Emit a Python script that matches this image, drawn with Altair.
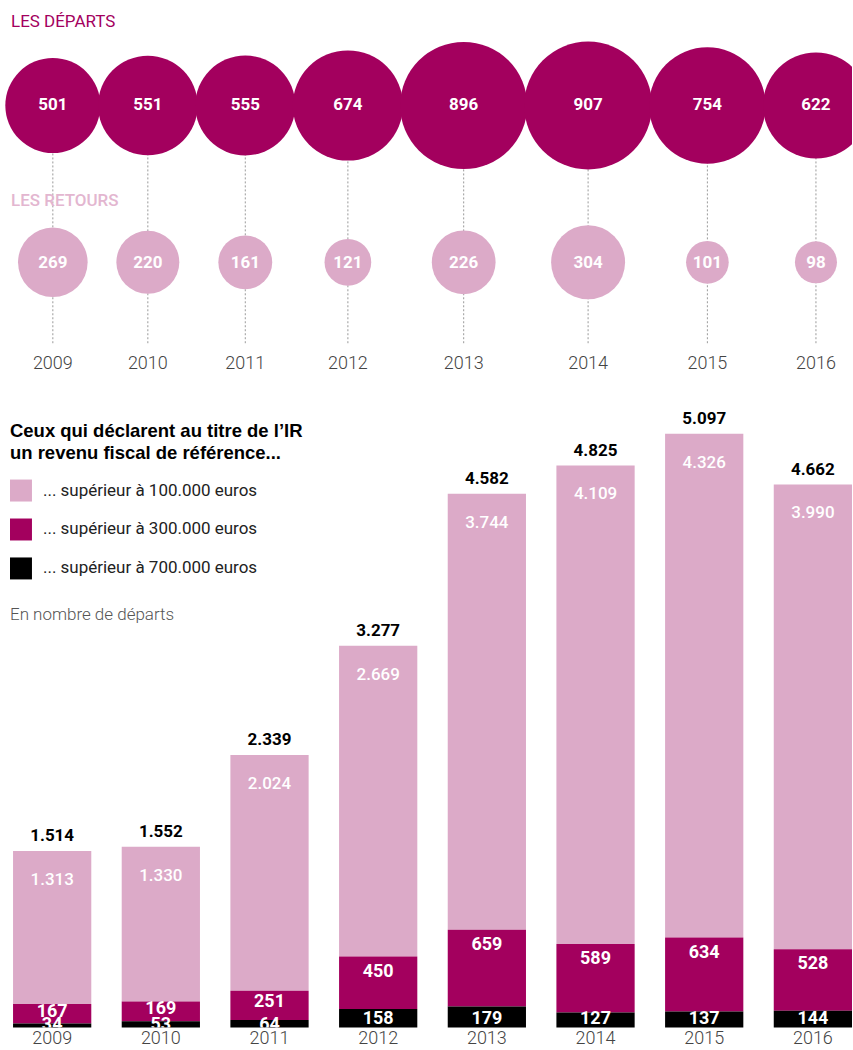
import altair as alt
import pandas as pd
import numpy as np

# ---------------- data ----------------
years = ["2009", "2010", "2011", "2012", "2013", "2014", "2015", "2016"]
departs = [501, 551, 555, 674, 896, 907, 754, 622]
retours = [269, 220, 161, 121, 226, 304, 101, 98]
seg_100 = [1313, 1330, 2024, 2669, 3744, 4109, 4326, 3990]
seg_300 = [167, 169, 251, 450, 659, 589, 634, 528]
seg_700 = [34, 53, 64, 158, 179, 127, 137, 144]
totals = [1514, 1552, 2339, 3277, 4582, 4825, 5097, 4662]
categories = [
    "... supérieur à 100.000 euros",
    "... supérieur à 300.000 euros",
    "... supérieur à 700.000 euros",
]

MAGENTA = "#a3005e"
PINK = "#dcaac8"
PINK_TXT = "#e3b6d0"
FONT = "Roboto"
TITLE_FONT = "Liberation Sans"


def fr(n):
    return f"{n:,}".replace(",", ".")


# ---------------- top: packed bubbles ----------------
root = np.sqrt(np.array(departs, dtype=float))
u = np.concatenate([[0.0], np.cumsum(root[:-1] + root[1:])])
top_df = pd.DataFrame({"year": years, "u": u, "dep": departs, "ret": retours})

size_scale = alt.Scale(type="linear", domain=[0, 1000], range=[0, 18060])
xs = alt.Scale(domain=[float(u[0] - 25.5), float(u[-1] + 17.4)], nice=False, zero=False)
X = alt.X("u:Q", scale=xs, axis=None)

base = alt.Chart(top_df)
rules = base.mark_rule(color="#9a9a9a", strokeDash=[2, 2], strokeWidth=1).encode(
    x=X, y=alt.value(105), y2=alt.value(343)
)
dep_c = base.mark_circle(color=MAGENTA, opacity=1, clip=True).encode(
    x=X, y=alt.value(105), size=alt.Size("dep:Q", scale=size_scale, legend=None)
)
dep_t = base.mark_text(color="white", fontSize=17, fontWeight="bold", font=FONT).encode(
    x=X, y=alt.value(105), text="dep:Q"
)
ret_c = base.mark_circle(color=PINK, opacity=1).encode(
    x=X, y=alt.value(262), size=alt.Size("ret:Q", scale=size_scale, legend=None)
)
ret_t = base.mark_text(color="white", fontSize=17, fontWeight="bold", font=FONT).encode(
    x=X, y=alt.value(263), text="ret:Q"
)
yr_t = base.mark_text(color="#444444", fontSize=18, fontWeight=300, font=FONT).encode(
    x=X, y=alt.value(364), text="year:N"
)
t_dep = alt.Chart(pd.DataFrame({"t": ["LES DÉPARTS"]})).mark_text(
    align="left", color=MAGENTA, fontSize=17, font=FONT
).encode(x=alt.value(11), y=alt.value(21), text="t:N")
t_ret = alt.Chart(pd.DataFrame({"t": ["LES RETOURS"]})).mark_text(
    align="left", color=PINK_TXT, fontSize=17, font=FONT, fontWeight=500
).encode(x=alt.value(11), y=alt.value(201), text="t:N")

top = alt.layer(rules, dep_c, ret_c, dep_t, ret_t, yr_t, t_dep, t_ret).properties(
    width=853, height=385
)

# ---------------- bottom: stacked bars ----------------
rows = []
for i, y in enumerate(years):
    for c, v, o in zip(categories, [seg_100[i], seg_300[i], seg_700[i]], [2, 1, 0]):
        rows.append({"year": y, "cat": c, "v": v, "ord": o})
bar_df = pd.DataFrame(rows)

lab_df = pd.DataFrame({
    "year": years,
    "total": totals,
    "tot_s": [fr(t) for t in totals],
    "s100": [fr(v) for v in seg_100],
    "s300": [str(v) for v in seg_300],
    "s700": [str(v) for v in seg_700],
    "mag_y": [b + m - min(130, 0.4 * m) for m, b in zip(seg_300, seg_700)],
    "blk_y": [68 if b >= 100 else 22 for b in seg_700],
})

XB = alt.X(
    "year:N",
    scale=alt.Scale(paddingInner=0.28, paddingOuter=0.06, align=1),
    axis=alt.Axis(title=None, domain=False, ticks=False, labelFontSize=18,
                  labelColor="#444444", labelFont=FONT, labelFontWeight=300,
                  labelPadding=2, labelAngle=0),
)
ys = alt.Scale(domain=[0, 5515], nice=False, zero=True)

bars = alt.Chart(bar_df).mark_bar().encode(
    x=XB,
    y=alt.Y("v:Q", stack="zero", scale=ys, axis=None),
    color=alt.Color(
        "cat:N",
        scale=alt.Scale(domain=categories, range=[PINK, MAGENTA, "black"]),
        legend=alt.Legend(
            orient="none", legendX=10, legendY=422,
            title=["Ceux qui déclarent au titre de l’IR", "un revenu fiscal de référence..."],
            titleFontSize=18.5, titleFontWeight="bold", titleColor="black", titleFont=TITLE_FONT,
            titleLineHeight=22, titlePadding=17, titleLimit=600,
            labelFontSize=17, labelFont=FONT, labelColor="#222222", labelLimit=500,
            labelOffset=11, symbolType="square", symbolSize=484, symbolStrokeWidth=0,
            symbolOpacity=1, rowPadding=17,
        ),
    ),
    order=alt.Order("ord:Q"),
)

lb = alt.Chart(lab_df)
tot_t = lb.mark_text(color="black", fontSize=17, fontWeight="bold", font=FONT, dy=-15).encode(
    x=XB, y=alt.Y("total:Q", scale=ys), text="tot_s:N"
)
p_t = lb.mark_text(color="white", fontSize=17, fontWeight=500, font=FONT, dy=29).encode(
    x=XB, y=alt.Y("total:Q", scale=ys), text="s100:N"
)
m_t = lb.mark_text(color="white", fontSize=18, fontWeight="bold", font=FONT).encode(
    x=XB, y=alt.Y("mag_y:Q", scale=ys), text="s300:N"
)
b_t = lb.mark_text(color="white", fontSize=18, fontWeight="bold", font=FONT, clip=True).encode(
    x=XB, y=alt.Y("blk_y:Q", scale=ys), text="s700:N"
)
note = alt.Chart(pd.DataFrame({"t": ["En nombre de départs"]})).mark_text(
    align="left", color="#555555", fontSize=17, font=FONT, fontWeight=300
).encode(x=alt.value(10), y=alt.value(230), text="t:N")

bottom = alt.layer(bars, tot_t, p_t, m_t, b_t, note).properties(width=853, height=643)

chart = alt.vconcat(top, bottom, spacing=0, padding=0).configure_view(stroke=None)
chart.save("out.html", embed_options={"renderer": "svg", "actions": False})
